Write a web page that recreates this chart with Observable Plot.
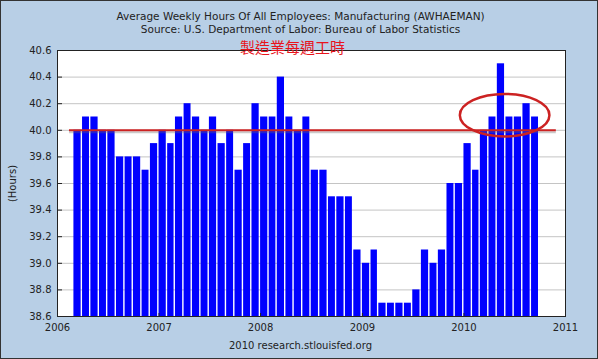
<!DOCTYPE html>
<html><head><meta charset="utf-8">
<script src="https://cdn.jsdelivr.net/npm/d3@7"></script>
<script src="https://cdn.jsdelivr.net/npm/@observablehq/plot@0.6"></script>
<style>body{margin:0;background:#fff} #chart svg{display:block}</style>
</head><body><div id="chart"></div>
<script>
// Monthly data: March 2006 .. September 2010
const firstMonth = "2006-03-01";
const hours = [40.0, 40.1, 40.1, 40.0, 40.0, 39.8, 39.8, 39.8, 39.7, 39.9,
  40.0, 39.9, 40.1, 40.2, 40.1, 40.0, 40.1, 39.9, 40.0, 39.7, 39.9, 40.2,
  40.1, 40.1, 40.4, 40.1, 40.0, 40.1, 39.7, 39.7, 39.5, 39.5, 39.5, 39.1,
  39.0, 39.1, 38.7, 38.7, 38.7, 38.7, 38.8, 39.1, 39.0, 39.1, 39.6, 39.6,
  39.9, 39.7, 40.0, 40.1, 40.5, 40.1, 40.1, 40.2, 40.1];
const yTicks = [38.6, 38.8, 39.0, 39.2, 39.4, 39.6, 39.8, 40.0, 40.2, 40.4, 40.6];
const xTickYears = ["2006", "2007", "2008", "2009", "2010", "2011"];
const yDomain = [38.6, 40.6];
const xDomain = ["2006-01-01", "2011-01-01"];
const titleText = "Average Weekly Hours Of All Employees: Manufacturing (AWHAEMAN)";
const sourceText = "Source: U.S. Department of Labor: Bureau of Labor Statistics";
const noteText = "製造業每週工時";
const footerText = "2010 research.stlouisfed.org";
const yLabel = "(Hours)";
// annotations (hand-drawn in the original)
const refLevel = [40.0];
const refLineSpan = ["2006-02-13", "2010-11-29"];
const ellipseX = ["2009-12-19", "2010-11-06"];
const ellipseY = [39.95, 40.27];

const parse = d3.utcParse("%Y-%m-%d");
const start = parse(firstMonth);
const data = hours.map((v, i) => {
  const date = d3.utcMonth.offset(start, i);
  return {date, next: d3.utcMonth.offset(date, 1), value: v};
});
const xTicks = xTickYears.map(y => parse(y + "-01-01"));
const font = "DejaVu Sans, sans-serif";

const chart = Plot.plot({
  width: 598, height: 359,
  marginLeft: 57, marginRight: 33, marginTop: 50, marginBottom: 43,
  style: {background: "#b8cfe6", fontFamily: font, fontSize: "10px", color: "#222", outline: "1px solid #333", outlineOffset: "-1px"},
  x: {type: "utc", domain: xDomain.map(parse)},
  y: {domain: yDomain},
  marks: [
    Plot.frame({fill: "white", stroke: null}),
    Plot.ruleY(yTicks.slice(1, -1), {stroke: "#c4c4c4"}),
    Plot.rect(data, {x1: "date", x2: "next", y1: yDomain[0], y2: "value", fill: "#0000ff", insetRight: 1.4}),
    Plot.ruleY(refLevel, {x1: parse(refLineSpan[0]), x2: parse(refLineSpan[1]), stroke: "#666", strokeOpacity: 0.35, strokeWidth: 2, dy: 2}),
    Plot.ruleY(refLevel, {x1: parse(refLineSpan[0]), x2: parse(refLineSpan[1]), stroke: "#cc2222", strokeWidth: 2}),
    Plot.frame({stroke: "#222"}),
    Plot.axisY(yTicks, {anchor: "left", tickSize: -5, tickPadding: 11, tickFormat: d => d.toFixed(1), fontSize: 10, label: yLabel, labelAnchor: "center", labelOffset: 49, labelArrow: "none"}),
    Plot.axisX(xTicks, {anchor: "bottom", tickSize: -3, tickPadding: 10, tickFormat: d3.utcFormat("%Y"), fontSize: 10, label: null}),
    Plot.text([titleText], {frameAnchor: "top", dx: -11, dy: -38, fontSize: 10.5, fill: "#222"}),
    Plot.text([sourceText], {frameAnchor: "top", dx: -11, dy: -25, fontSize: 10.5, fill: "#222"}),
    Plot.text([noteText], {frameAnchor: "top", dx: -19, dy: -8, fontSize: 15, fill: "#e8141c", fontFamily: "Noto Sans CJK TC"}),
    Plot.text([footerText], {frameAnchor: "bottom", dx: -11, dy: 32, fontSize: 10, fill: "#222"})
  ]
});

// hand-drawn ellipse annotation, positioned with the chart's own scales
const sx = chart.scale("x"), sy = chart.scale("y");
const ax = ellipseX.map(d => sx.apply(parse(d)));
const ay = ellipseY.map(d => sy.apply(d));
d3.select(chart).append("ellipse")
  .attr("cx", (ax[0] + ax[1]) / 2).attr("cy", (ay[0] + ay[1]) / 2)
  .attr("rx", Math.abs(ax[1] - ax[0]) / 2).attr("ry", Math.abs(ay[1] - ay[0]) / 2)
  .attr("fill", "none").attr("stroke", "#cc2222").attr("stroke-width", 2.5);

document.getElementById("chart").append(chart);
</script>
</body></html>
